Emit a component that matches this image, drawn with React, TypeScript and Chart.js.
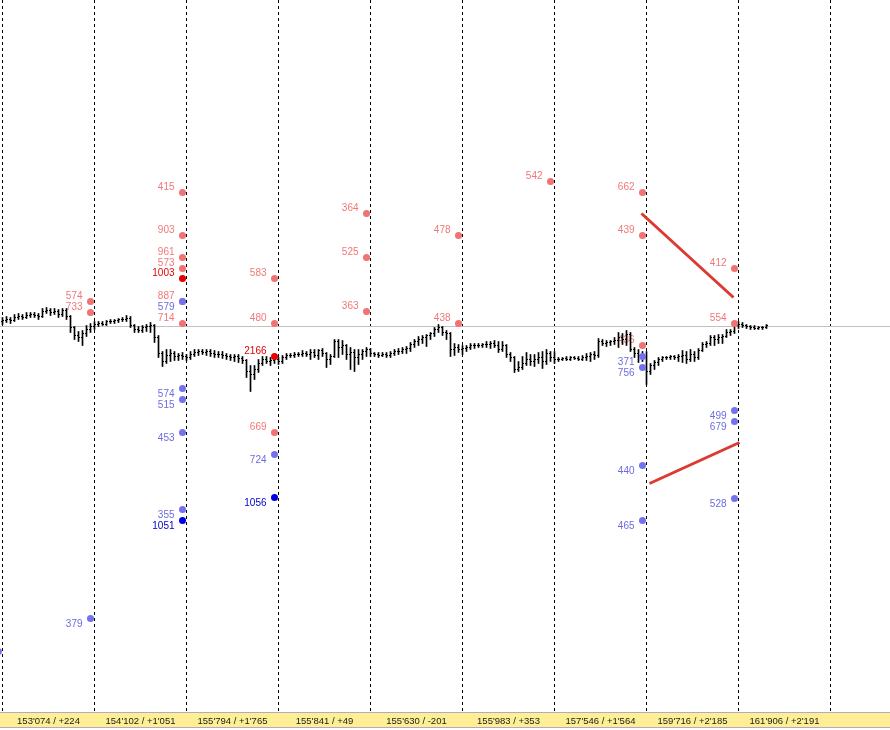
import React, { useEffect, useRef } from 'react';
import { Chart, registerables } from 'chart.js';
Chart.register(...registerables);

// ---- OHLC bars (price units) ----
const barOpen = [
  678,679,680,679,682,683,682,684,685,684,
  683,688,689,687,688,685,689,683,672,664,
  662,666,670,673,675,676,675,678,678,679,
  680,680,681,674,670,669,672,673,674,662,
  646,638,644,646,643,644,643,642,645,647,
  648,647,648,646,645,645,644,643,642,643,
  641,639,628,625,630,636,640,638,639,640,
  638,642,644,644,645,645,646,645,647,644,
  649,646,640,643,658,652,654,645,647,642,
  645,648,650,646,645,644,645,644,646,648,
  648,650,651,655,658,660,662,664,666,670,
  672,667,666,650,652,650,651,652,654,654,
  654,655,655,656,654,650,654,645,642,630,
  632,636,640,638,640,642,638,646,642,640,
  640,641,640,642,641,640,642,643,645,644,
  658,656,657,658,659,662,660,665,650,646,
  644,642,628,634,637,640,642,642,643,642,
  643,644,640,645,642,649,655,656,662,660,
  662,663,667,668,674,675,674,673,672,671,
  672,672,
];
const barHigh = [
  682,683,682,685,686,685,687,687,687,686,
  691,692,691,691,690,691,691,684,673,668,
  669,674,676,678,678,678,679,680,680,681,
  682,684,683,675,673,674,675,677,675,664,
  648,650,650,648,646,647,645,648,650,650,
  650,650,650,649,648,648,646,645,645,645,
  643,640,634,634,640,643,643,642,642,642,
  644,646,646,647,647,649,648,650,650,650,
  651,647,645,660,660,659,655,652,650,650,
  650,652,651,647,647,647,647,648,650,651,
  652,653,657,660,663,664,665,667,672,675,
  673,669,667,656,655,654,654,656,656,656,
  656,658,658,659,658,658,655,647,643,638,
  643,647,645,645,647,648,650,648,648,642,
  642,643,643,643,643,644,646,647,648,661,
  660,659,659,662,667,666,669,667,652,650,
  648,648,636,639,642,643,643,644,644,645,
  649,648,650,648,651,657,658,664,664,665,
  665,670,670,678,678,677,675,674,674,673,
  673,675,
];
const barLow = [
  675,677,676,678,680,680,681,682,682,680,
  682,686,684,685,682,683,680,667,660,658,
  654,663,667,670,673,674,674,676,676,677,
  678,678,672,667,667,667,668,667,657,642,
  633,636,638,639,639,640,639,640,643,644,
  645,644,643,642,642,641,640,639,638,637,
  636,622,608,620,627,634,636,634,636,635,
  636,640,642,642,643,643,643,640,642,640,
  643,632,635,642,642,645,640,630,628,635,
  640,643,643,643,642,643,642,642,644,645,
  646,646,648,652,654,656,653,660,663,667,
  664,660,643,644,647,645,648,650,651,652,
  652,652,651,652,647,648,642,638,627,628,
  630,634,634,633,636,631,635,638,636,638,
  639,639,639,640,639,639,639,638,640,642,
  654,653,654,655,652,655,654,648,642,637,
  638,615,625,630,634,638,640,640,640,638,
  637,636,638,638,640,648,652,654,654,656,
  656,662,664,666,671,672,671,670,670,670,
  670,671,
];
const barClose = [
  679,680,679,682,683,682,684,685,684,683,
  688,689,687,688,685,689,683,672,664,662,
  666,670,673,675,676,675,678,678,679,680,
  680,681,674,670,669,672,673,674,662,646,
  638,644,646,643,644,643,642,645,647,648,
  647,648,646,645,645,644,643,642,643,641,
  639,628,625,630,636,640,638,639,640,638,
  642,644,644,645,645,646,645,647,644,649,
  646,640,643,658,652,654,645,647,642,645,
  648,650,646,645,644,645,644,646,648,648,
  650,651,655,658,660,662,664,666,670,672,
  667,666,650,652,650,651,652,654,654,654,
  655,655,656,654,650,654,645,642,630,632,
  636,640,638,640,642,638,646,642,640,640,
  641,640,642,641,640,642,643,645,644,658,
  656,657,658,659,662,660,665,650,646,644,
  642,628,634,637,640,642,642,643,642,643,
  644,640,645,642,649,655,656,662,660,662,
  663,667,668,674,675,674,673,672,671,672,
  672,674,
];

// ---- axis ----
const gridIdx = [0, 23, 46, 69, 92, 115, 138, 161, 184, 207];
const labelIdx = [11.5, 34.5, 57.5, 80.5, 103.5, 126.5, 149.5, 172.5, 195.5];
const axisLabels = [
  "153'074 / +224", "154'102 / +1'051", "155'794 / +1'765", "155'841 / +49",
  "155'630 / -201", "155'983 / +353", "157'546 / +1'564", "159'716 / +2'185", "161'906 / +2'191",
];
const xMin = -0.625;
const xMax = 221.875;
const yMin = 287.5;
const yMax = 999.5;
const refLevel = 673;

// ---- level dots ----
const lightRedIdx = [22, 22, 45, 45, 45, 45, 45, 45, 68, 68, 68, 91, 91, 91, 114, 114, 137, 160, 160, 160, 183, 183];
const lightRedVal = [698, 687, 807, 764, 742, 731, 698, 676, 721, 676, 567, 786, 742, 688, 764, 676, 818, 807, 764, 654, 731, 676];
const lightRedLbl = ['574', '733', '415', '903', '961', '573', '887', '714', '583', '480', '669', '364', '525', '363', '478', '438', '542', '662', '439', '436', '412', '554'];

const lightBlueIdx = [-1, -1, 22, 45, 45, 45, 45, 45, 68, 160, 160, 160, 160, 183, 183, 183];
const lightBlueVal = [370, 348, 381, 698, 611, 600, 567, 490, 545, 643, 632, 534, 479, 589, 578, 501];
const lightBlueLbl = ['', '', '379', '579', '574', '515', '453', '355', '724', '371', '756', '440', '465', '499', '679', '528'];

const darkRedIdx = [45, 68];
const darkRedVal = [721, 643];
const darkRedLbl = ['1003', '2166'];

const darkBlueIdx = [45, 68];
const darkBlueVal = [479, 502];
const darkBlueLbl = ['1051', '1056'];

// ---- trend lines ----
const trendAIdx = [159.75, 182.75];
const trendAVal = [786, 702];
const trendBIdx = [161.75, 184.25];
const trendBVal = [516, 557];

const FONT = '"Liberation Sans", Arial, sans-serif';

const pts = (xs: number[], ys: number[]) => xs.map((x, i) => ({ x, y: ys[i] }));

const bandPlugin = {
  id: 'band',
  beforeDraw(chart: any) {
    const ctx = chart.ctx;
    const s = chart.scales.xl;
    ctx.save();
    ctx.fillStyle = '#ffffff';
    ctx.fillRect(0, 0, chart.width, chart.height);
    ctx.fillStyle = '#ffef94';
    ctx.fillRect(0, s.top, chart.width, s.bottom - s.top - 2);
    ctx.strokeStyle = '#b4a8c8';
    ctx.lineWidth = 1;
    ctx.beginPath();
    ctx.moveTo(0, s.top + 0.5);
    ctx.lineTo(chart.width, s.top + 0.5);
    ctx.moveTo(0, s.bottom - 2.5);
    ctx.lineTo(chart.width, s.bottom - 2.5);
    ctx.stroke();
    ctx.restore();
  },
};

const dotLabelPlugin = {
  id: 'dotLabels',
  beforeDatasetsDraw(chart: any) {
    const ctx = chart.ctx;
    chart.data.datasets.forEach((ds: any, di: number) => {
      if (!ds.dotLabels) return;
      const meta = chart.getDatasetMeta(di);
      ctx.save();
      ctx.font = '10px ' + FONT;
      ctx.fillStyle = ds.labelColor;
      ctx.textAlign = 'right';
      ctx.textBaseline = 'middle';
      meta.data.forEach((el: any, i: number) => {
        const t = ds.dotLabels[i];
        if (t) ctx.fillText(t, el.x - 8, el.y + ds.labelDy);
      });
      ctx.restore();
    });
  },
};

export default function App() {
  const ref = useRef<HTMLCanvasElement | null>(null);
  useEffect(() => {
    document.body.style.margin = '0';
    if (!ref.current) return;
    const idx = barOpen.map((_, i) => i);
    const dotDs = (xs: number[], ys: number[], lbls: string[], color: string, textColor: string, dy: number, order: number) => ({
      type: 'scatter',
      data: pts(xs, ys),
      backgroundColor: color,
      borderWidth: 0,
      pointRadius: 3.5,
      pointStyle: 'circle',
      order,
      dotLabels: lbls,
      labelColor: textColor,
      labelDy: dy,
      xAxisID: 'x',
      yAxisID: 'y',
    });
    const chart = new Chart(ref.current, {
      type: 'scatter',
      data: {
        datasets: [
          {
            type: 'line',
            data: [{ x: xMin, y: refLevel }, { x: xMax, y: refLevel }],
            borderColor: '#c0c0c0',
            borderWidth: 1,
            pointRadius: 0,
            order: 20,
            xAxisID: 'x',
            yAxisID: 'y',
          },
          {
            type: 'bar',
            data: idx.map((i) => ({ x: i, y: [barLow[i], barHigh[i]] })),
            backgroundColor: '#000000',
            borderWidth: 0,
            barThickness: 1,
            grouped: false,
            order: 15,
            xAxisID: 'x',
            yAxisID: 'y',
          },
          {
            type: 'scatter',
            data: idx.map((i) => ({ x: i - 0.25, y: barOpen[i] })),
            pointStyle: 'line',
            pointRadius: 0.5,
            borderColor: '#000000',
            borderWidth: 1,
            order: 14,
            xAxisID: 'x',
            yAxisID: 'y',
          },
          {
            type: 'scatter',
            data: idx.map((i) => ({ x: i + 0.25, y: barClose[i] })),
            pointStyle: 'line',
            pointRadius: 0.5,
            borderColor: '#000000',
            borderWidth: 1,
            order: 14,
            xAxisID: 'x',
            yAxisID: 'y',
          },
          {
            type: 'line',
            data: pts(trendAIdx, trendAVal),
            borderColor: '#dc3a30',
            borderWidth: 3,
            pointRadius: 0,
            order: 5,
            xAxisID: 'x',
            yAxisID: 'y',
          },
          {
            type: 'line',
            data: pts(trendBIdx, trendBVal),
            borderColor: '#dc3a30',
            borderWidth: 3,
            pointRadius: 0,
            order: 5,
            xAxisID: 'x',
            yAxisID: 'y',
          },
          dotDs(lightRedIdx, lightRedVal, lightRedLbl, '#f07272', '#f07878', -5, 4),
          dotDs(lightBlueIdx, lightBlueVal, lightBlueLbl, '#7272ee', '#6c6ce0', 5.5, 3),
          dotDs(darkRedIdx, darkRedVal, darkRedLbl, '#e60000', '#e00000', -5, 2),
          dotDs(darkBlueIdx, darkBlueVal, darkBlueLbl, '#0000e6', '#0000c8', 5.5, 1),
        ] as any,
      },
      options: {
        animation: false,
        responsive: false,
        events: [],
        layout: { padding: 0, autoPadding: false },
        plugins: { legend: { display: false }, tooltip: { enabled: false } },
        scales: {
          x: {
            type: 'linear',
            position: 'bottom',
            min: xMin,
            max: xMax,
            offset: false,
            afterBuildTicks: (s: any) => {
              s.ticks = gridIdx.map((v) => ({ value: v }));
            },
            afterFit: (s: any) => {
              s.height = 0;
            },
            ticks: { display: false },
            grid: { color: '#000000', lineWidth: 1, drawTicks: false, offset: false },
            border: { display: false, dash: [3, 3] },
          },
          xl: {
            type: 'linear',
            position: 'bottom',
            min: xMin,
            max: xMax,
            offset: false,
            afterBuildTicks: (s: any) => {
              s.ticks = labelIdx.map((v) => ({ value: v }));
            },
            afterFit: (s: any) => {
              s.height = 18;
            },
            ticks: {
              autoSkip: false,
              maxRotation: 0,
              padding: 4,
              color: '#1a1a1a',
              font: { family: FONT, size: 9.5 },
              callback: (_v: any, i: number) => axisLabels[i],
            },
            grid: { display: false, drawTicks: false },
            border: { display: false },
          },
          y: { type: 'linear', min: yMin, max: yMax, display: false },
        },
      } as any,
      plugins: [bandPlugin, dotLabelPlugin],
    } as any);
    return () => chart.destroy();
  }, []);
  return (
    <div style={{ position: 'absolute', left: 0, top: 0, width: 890, height: 730 }}>
      <canvas ref={ref} width={890} height={730} style={{ display: 'block' }} />
    </div>
  );
}
